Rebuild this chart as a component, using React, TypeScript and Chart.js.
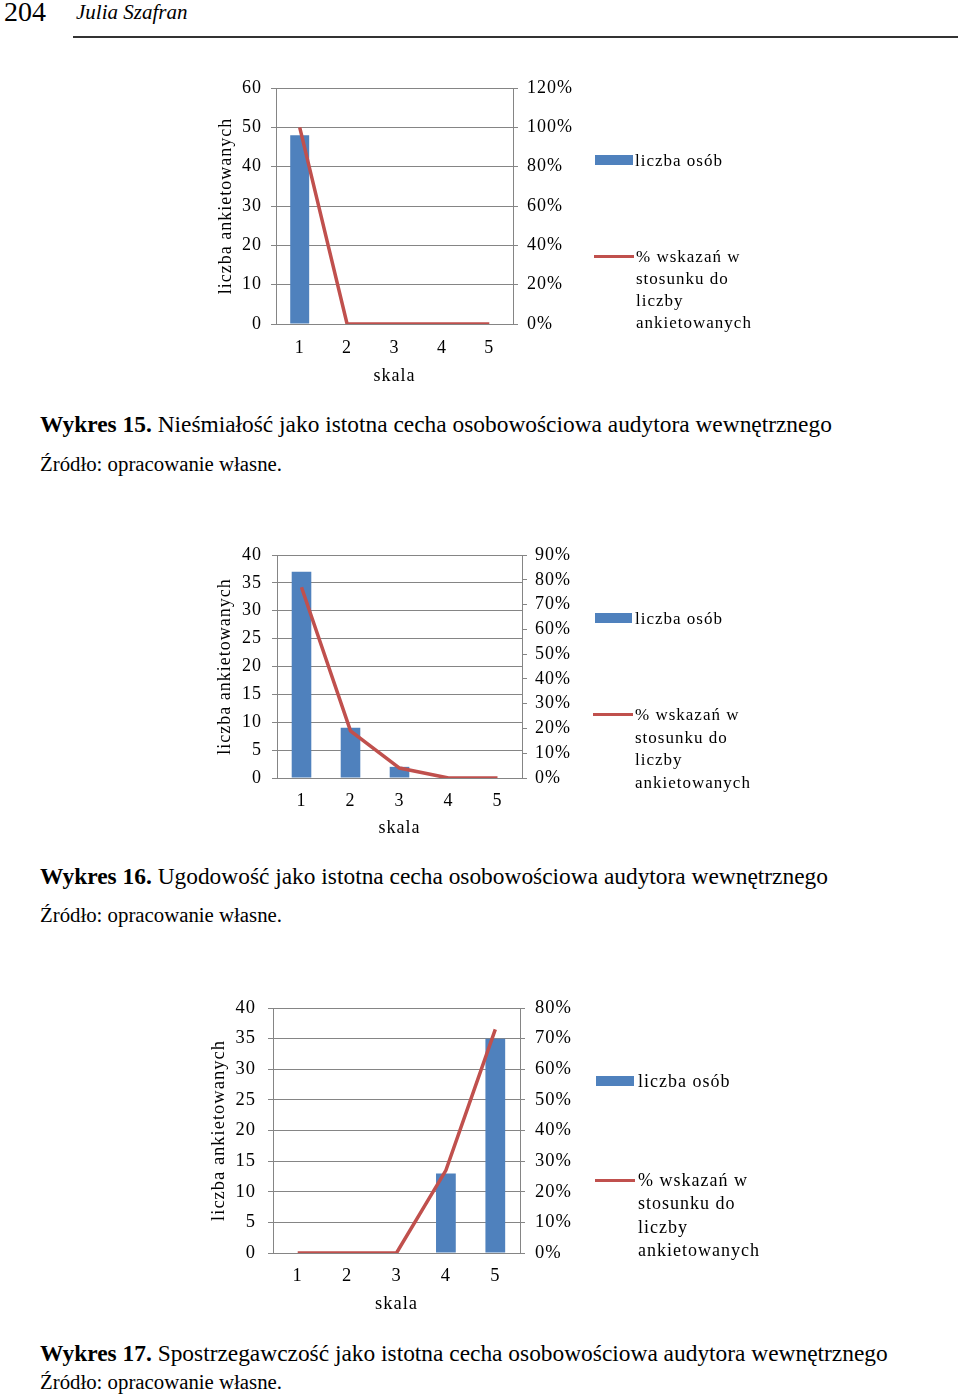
import React, { useEffect, useRef } from "react";
import { Chart, registerables } from "chart.js";

Chart.register(...registerables);

const SERIF = "'Liberation Serif', 'Times New Roman', serif";
Chart.defaults.font.family = SERIF;
Chart.defaults.color = "#000";

// ---------- data ----------
const categories = ["1", "2", "3", "4", "5"];

const counts15 = [48, 0, 0, 0, 0];
const percent15 = [100, 0, 0, 0, 0];
const leftTicks15 = [0, 10, 20, 30, 40, 50, 60];
const rightTicks15 = [0, 20, 40, 60, 80, 100, 120];

const counts16 = [37, 9, 2, 0, 0];
const percent16 = [77, 19, 4, 0, 0];
const leftTicks16 = [0, 5, 10, 15, 20, 25, 30, 35, 40];
const rightTicks16 = [0, 10, 20, 30, 40, 50, 60, 70, 80, 90];

const counts17 = [0, 0, 0, 13, 35];
const percent17 = [0, 0, 0, 27, 73];
const leftTicks17 = [0, 5, 10, 15, 20, 25, 30, 35, 40];
const rightTicks17 = [0, 10, 20, 30, 40, 50, 60, 70, 80];

const barLabel = "liczba osób";
const lineLabel = "% wskazań w stosunku do liczby ankietowanych";
const lineLabelLines = ["% wskazań w", "stosunku do", "liczby", "ankietowanych"];
const yTitle = "liczba ankietowanych";
const xTitle = "skala";

const captionLabels = ["Wykres 15.", "Wykres 16.", "Wykres 17."];
const captionTexts = [
  "Nieśmiałość jako istotna cecha osobowościowa audytora wewnętrznego",
  "Ugodowość jako istotna cecha osobowościowa audytora wewnętrznego",
  "Spostrzegawczość jako istotna cecha osobowościowa audytora wewnętrznego",
];
const sourceText = "Źródło: opracowanie własne.";
const pageNumber = "204";
const authorName = "Julia Szafran";

// ---------- styles ----------
const BAR_COLOR = "#4F81BD";
const LINE_COLOR = "#C0504D";
const GRID_COLOR = "#858585";
const SPACING = "1px";

const spacingPlugin = {
  id: "letterSpacing",
  beforeLayout(chart: any) {
    chart.ctx.letterSpacing = SPACING;
  },
  beforeDraw(chart: any) {
    chart.ctx.letterSpacing = SPACING;
  },
};

type Geo = {
  L: number;
  R: number;
  T: number;
  B: number;
  titleX: number;
  skalaY: number;
  CR: number;
  leftPad: number;
  rightPad: number;
  xPad: number;
  font: number;
};

function ComboChart(props: {
  counts: number[];
  percent: number[];
  leftTicks: number[];
  rightTicks: number[];
  geo: Geo;
}) {
  const { counts, percent, leftTicks, rightTicks, geo } = props;
  const ref = useRef<HTMLCanvasElement>(null);
  const fs = geo.font;
  const lh = fs * 1.2;
  const padLeft = 4;
  const canvasLeft = Math.round(geo.titleX - 4 - lh / 2 - padLeft);
  const leftW = geo.L - canvasLeft - padLeft;
  const padTop = 30;
  const canvasTop = geo.T - padTop;
  const bottomH = Math.round(geo.skalaY + 4 + lh / 2 - geo.B);
  const w = geo.CR - canvasLeft;
  const h = geo.B + bottomH - canvasTop;
  const rightW = geo.CR - geo.R;

  useEffect(() => {
    const chart = new Chart(ref.current as HTMLCanvasElement, {
      type: "bar",
      data: {
        labels: categories,
        datasets: [
          {
            type: "line",
            label: lineLabel,
            data: percent,
            yAxisID: "y1",
            borderColor: LINE_COLOR,
            backgroundColor: LINE_COLOR,
            borderWidth: 3.5,
            pointRadius: 0,
            pointHoverRadius: 0,
            tension: 0,
            fill: false,
            order: 0,
          },
          {
            type: "bar",
            label: barLabel,
            data: counts,
            yAxisID: "y",
            backgroundColor: BAR_COLOR,
            barPercentage: 0.4,
            categoryPercentage: 1,
            order: 1,
          },
        ],
      } as any,
      options: {
        animation: false,
        responsive: false,
        devicePixelRatio: 1,
        layout: { padding: { left: padLeft, top: padTop, right: 0, bottom: 0 } },
        plugins: { legend: { display: false }, tooltip: { enabled: false } },
        scales: {
          x: {
            type: "category",
            offset: true,
            grid: { display: true, drawOnChartArea: false, drawTicks: false, color: GRID_COLOR },
            border: { display: true, color: GRID_COLOR, width: 1 },
            ticks: { padding: geo.xPad, font: { size: fs }, color: "#000", maxRotation: 0, autoSkip: false },
            title: {
              display: true,
              text: xTitle,
              font: { size: fs, lineHeight: 1.2 },
              color: "#000",
              padding: { top: 4, bottom: 4 },
            },
            afterFit: (s: any) => {
              s.height = bottomH;
            },
          },
          y: {
            position: "left",
            min: leftTicks[0],
            max: leftTicks[leftTicks.length - 1],
            afterBuildTicks: (s: any) => {
              s.ticks = leftTicks.map((v) => ({ value: v }));
            },
            grid: { color: GRID_COLOR, tickLength: 5, drawTicks: true, lineWidth: 1 },
            border: { display: true, color: GRID_COLOR, width: 1 },
            ticks: { padding: geo.leftPad, font: { size: fs }, color: "#000" },
            title: {
              display: true,
              text: yTitle,
              font: { size: fs, lineHeight: 1.2 },
              color: "#000",
              padding: { top: 4, bottom: 4 },
            },
            afterFit: (s: any) => {
              s.width = leftW;
            },
          },
          y1: {
            position: "right",
            min: rightTicks[0],
            max: rightTicks[rightTicks.length - 1],
            afterBuildTicks: (s: any) => {
              s.ticks = rightTicks.map((v) => ({ value: v }));
            },
            grid: { drawOnChartArea: false, color: GRID_COLOR, tickLength: 5, drawTicks: true },
            border: { display: true, color: GRID_COLOR, width: 1 },
            ticks: {
              padding: geo.rightPad,
              font: { size: fs },
              color: "#000",
              callback: (v: any) => v + "%",
            },
            afterFit: (s: any) => {
              s.width = rightW;
            },
          },
        },
      } as any,
      plugins: [spacingPlugin as any],
    });
    return () => chart.destroy();
  }, []);

  return (
    <canvas
      ref={ref}
      width={w}
      height={h}
      style={{ position: "absolute", left: canvasLeft, top: canvasTop, width: w, height: h }}
    />
  );
}

function Txt(props: {
  left: number;
  cy: number;
  size: number;
  italic?: boolean;
  spacing?: string;
  children: React.ReactNode;
}) {
  return (
    <div
      style={{
        position: "absolute",
        left: props.left,
        top: props.cy - props.size / 2,
        fontSize: props.size,
        lineHeight: 1,
        whiteSpace: "nowrap",
        fontStyle: props.italic ? "italic" : "normal",
        letterSpacing: props.spacing || "normal",
      }}
    >
      {props.children}
    </div>
  );
}

function Legend(props: {
  rect: [number, number, number, number];
  barTextLeft: number;
  barCy: number;
  line: [number, number, number];
  lineTextLeft: number;
  lineCys: number[];
  size: number;
}) {
  const { rect, line } = props;
  return (
    <>
      <div
        style={{
          position: "absolute",
          left: rect[0],
          top: rect[1],
          width: rect[2],
          height: rect[3],
          background: BAR_COLOR,
        }}
      />
      <Txt left={props.barTextLeft} cy={props.barCy} size={props.size} spacing={SPACING}>
        {barLabel}
      </Txt>
      <div
        style={{
          position: "absolute",
          left: line[0],
          top: line[1] - 1.5,
          width: line[2],
          height: 3,
          background: LINE_COLOR,
        }}
      />
      {lineLabelLines.map((t, i) => (
        <Txt key={i} left={props.lineTextLeft} cy={props.lineCys[i]} size={props.size} spacing={SPACING}>
          {t}
        </Txt>
      ))}
    </>
  );
}

function Caption(props: { idx: number; cy: number; srcCy: number }) {
  return (
    <>
      <Txt left={40} cy={props.cy} size={23.4}>
        <b>{captionLabels[props.idx]}</b> {captionTexts[props.idx]}
      </Txt>
      <Txt left={40} cy={props.srcCy} size={20.8}>
        {sourceText}
      </Txt>
    </>
  );
}

export default function App() {
  return (
    <div
      style={{
        position: "absolute",
        left: 0,
        top: 0,
        width: 960,
        height: 1398,
        overflow: "hidden",
        background: "#fff",
        color: "#000",
        fontFamily: SERIF,
      }}
    >
      <Txt left={4} cy={12} size={28}>
        {pageNumber}
      </Txt>
      <Txt left={76} cy={12} size={21} italic>
        {authorName}
      </Txt>
      <div style={{ position: "absolute", left: 73, top: 36, width: 885, height: 2, background: "#333" }} />

      <ComboChart
        counts={counts15}
        percent={percent15}
        leftTicks={leftTicks15}
        rightTicks={rightTicks15}
        geo={{ L: 276, R: 513, T: 88, B: 324, titleX: 226, skalaY: 376, CR: 600, leftPad: 9, rightPad: 9, xPad: 13, font: 18 }}
      />
      <Legend
        rect={[595, 155, 38, 10]}
        barTextLeft={635}
        barCy={160}
        line={[594, 256, 40]}
        lineTextLeft={636}
        lineCys={[256, 278, 300, 322]}
        size={17}
      />
      <Caption idx={0} cy={425} srcCy={464} />

      <ComboChart
        counts={counts16}
        percent={percent16}
        leftTicks={leftTicks16}
        rightTicks={rightTicks16}
        geo={{ L: 277, R: 522, T: 555, B: 778, titleX: 225, skalaY: 828, CR: 600, leftPad: 10, rightPad: 8, xPad: 12, font: 18 }}
      />
      <Legend
        rect={[595, 613, 37, 10]}
        barTextLeft={635}
        barCy={618}
        line={[593, 714, 40]}
        lineTextLeft={635}
        lineCys={[714, 737, 759, 782]}
        size={17}
      />
      <Caption idx={1} cy={877} srcCy={915} />

      <ComboChart
        counts={counts17}
        percent={percent17}
        leftTicks={leftTicks17}
        rightTicks={rightTicks17}
        geo={{ L: 273, R: 520, T: 1008, B: 1253, titleX: 219, skalaY: 1304, CR: 600, leftPad: 12, rightPad: 10, xPad: 12, font: 18.5 }}
      />
      <Legend
        rect={[596, 1076, 38, 10]}
        barTextLeft={638}
        barCy={1081}
        line={[595, 1180, 40]}
        lineTextLeft={638}
        lineCys={[1180, 1203, 1227, 1250]}
        size={18}
      />
      <Caption idx={2} cy={1354} srcCy={1382} />
    </div>
  );
}
